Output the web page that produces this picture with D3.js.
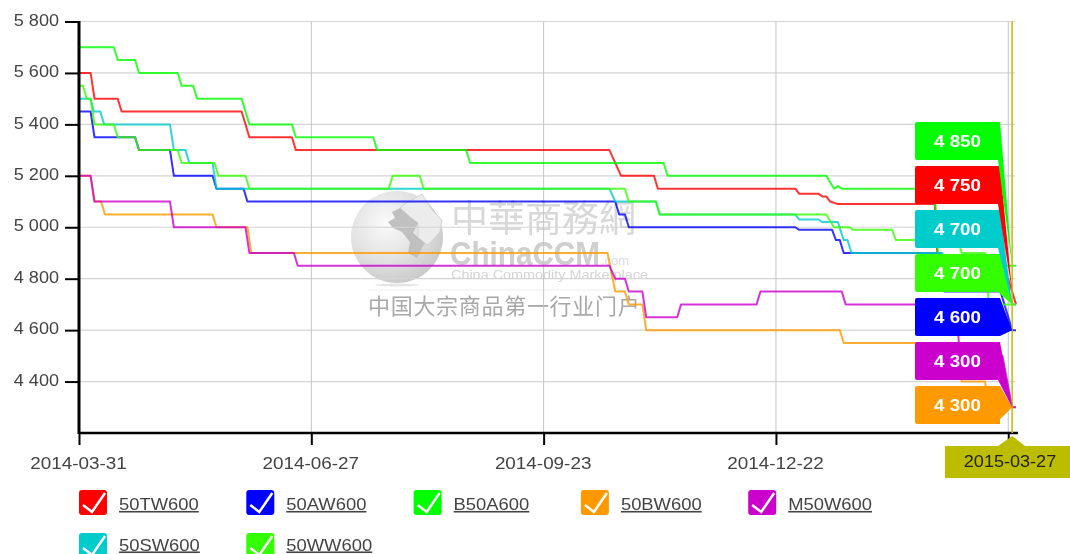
<!DOCTYPE html>
<html>
<head>
<meta charset="utf-8">
<script src="https://cdn.jsdelivr.net/npm/d3@7/dist/d3.min.js"></script>
<style>
body { margin: 0; background: #fff; }
svg { display: block; filter: blur(0.5px); font-family: "Liberation Sans", Arial, sans-serif; }
</style>
</head>
<body>
<svg width="1070" height="554"></svg>
<script>
// x values are positions on the trading day axis (0 = 2014-03-31)
var seriesNames = ["50TW600", "50AW600", "B50A600", "50BW600", "M50W600", "50SW600", "50WW600"];
var seriesColors = ["#ff0000", "#0000ff", "#00ff00", "#ff9900", "#cc00cc", "#00cccc", "#33ff00"];

var tw50 = [[0,5600],[3,5600],[4,5500],[10,5500],[11,5450],[42,5450],[44,5350],[55,5350],[56,5300],[137,5300],[140,5200],[148.5,5200],[149.5,5150],[185,5150],[186,5130],[191,5130],[192,5120],[193,5120],[194,5100],[196,5090],[221,5090],[222,4800],[240,4800],[241,4750],[242,4700]];
var aw50 = [[0,5450],[3,5450],[4,5350],[14.5,5350],[15.5,5300],[23.5,5300],[24.5,5200],[34.5,5200],[35.5,5150],[42.5,5150],[43.5,5100],[138.5,5100],[139.5,5050],[141,5050],[142,5000],[185,5000],[186,4990],[194.5,4990],[195.5,4950],[196.5,4950],[197.5,4900],[222.5,4900],[223.5,4750],[238,4750],[241,4600],[242,4600]];
var b50a = [[0,5700],[9,5700],[10,5650],[14.5,5650],[15.5,5600],[25.5,5600],[26.5,5550],[29.5,5550],[30.5,5500],[42,5500],[44,5400],[55,5400],[56,5350],[76,5350],[77,5300],[100,5300],[101,5250],[151,5250],[152,5200],[193,5200],[195,5150],[196,5160],[197,5150],[221,5150],[222,4850],[242,4850]];
var bw50 = [[0,5200],[3,5200],[4,5100],[5.7,5100],[6.7,5050],[34.5,5050],[35.5,5000],[43.5,5000],[44.5,4900],[136.5,4900],[138.5,4750],[141,4750],[142,4700],[145.5,4700],[146.5,4600],[196.5,4600],[197.5,4550],[221,4550],[222,4450],[227.5,4450],[228,4400],[234,4400],[235,4300],[242,4300]];
var m50w = [[0,5200],[3,5200],[4,5100],[23.5,5100],[24.5,5000],[43,5000],[44,4900],[55.5,4900],[56.5,4850],[137,4850],[138.5,4800],[141,4800],[142,4750],[145.5,4750],[146.5,4650],[154.5,4650],[155.5,4700],[175,4700],[176,4750],[197,4750],[198,4700],[226.5,4700],[227.5,4500],[238.5,4500],[241,4300],[242,4300]];
var sw50 = [[0,5500],[3,5500],[3.8,5450],[5.5,5450],[6.5,5400],[23.5,5400],[24.5,5300],[27.5,5300],[28.5,5250],[34.5,5250],[35.5,5150],[137,5150],[138.5,5100],[149,5100],[150,5050],[185,5050],[186,5030],[191,5030],[192,5020],[196,5020],[197.5,4950],[198.5,4950],[199.5,4900],[223,4900],[224,4850],[238,4850],[241,4700],[242,4700]];
var ww50 = [[0,5550],[1,5550],[2,5500],[3,5500],[4,5400],[9,5400],[10,5350],[14.5,5350],[15.5,5300],[25.5,5300],[26.5,5250],[35,5250],[36,5200],[43,5200],[44,5150],[80,5150],[81,5200],[88,5200],[89,5150],[141,5150],[142,5100],[149,5100],[150,5050],[193,5050],[195,5000],[199,5000],[200,4990],[210,4990],[211,4950],[227,4950],[228,4900],[234,4900],[235,4700],[242,4700]];
var seriesData = [tw50, aw50, b50a, bw50, m50w, sw50, ww50];

var tagValues = [4750, 4600, 4850, 4300, 4300, 4700, 4700];   // tooltip values at the crosshair
var flagOrder = [2, 0, 5, 6, 1, 4, 3];                        // top to bottom
var crosshairDay = 241;
var crosshairLabel = "2015-03-27";

var xTicks = [0, 60, 120, 180, 240];
var xTickLabels = ["2014-03-31", "2014-06-27", "2014-09-23", "2014-12-22", ""];
var yTicks = [4400, 4600, 4800, 5000, 5200, 5400, 5600, 5800];

var svg = d3.select("svg");

var xScale = d3.scaleLinear().domain([0, 242]).range([79, 1016]);
var yScale = d3.scaleLinear().domain([4200, 5800]).range([433, 21.5]);

function spaced(v) {
    return String(v).charAt(0) + " " + String(v).slice(1);
}

// background watermark
var defs = svg.append("defs");
var globeGrad = defs.append("radialGradient").attr("id", "globeGrad")
    .attr("cx", "38%").attr("cy", "35%").attr("r", "70%");
globeGrad.append("stop").attr("offset", "0%").attr("stop-color", "#fbfbfb");
globeGrad.append("stop").attr("offset", "60%").attr("stop-color", "#e0e0e0");
globeGrad.append("stop").attr("offset", "100%").attr("stop-color", "#c8c8c8");

var mark = svg.append("g");
mark.append("circle").attr("cx", 397).attr("cy", 237).attr("r", 46).attr("fill", "url(#globeGrad)");
mark.append("path")
    .attr("d", "M403,205 L422,194 L432,210 L442,220 L440,232 L428,245 L418,240 L418,223 L410,217 L400,208 Z")
    .attr("fill", "#ececec").attr("stroke", "#d2d2d2");
mark.append("path")
    .attr("d", "M388,222 L395,218 L392,212 L400,208 L410,217 L418,223 L413,233 L425,243 L422,248 L417,258 L408,253 L410,242 L402,232 L393,228 Z")
    .attr("fill", "#c0c0c0");
mark.append("ellipse").attr("cx", 397).attr("cy", 285).attr("rx", 22).attr("ry", 1.5).attr("fill", "#e4e4e4");
mark.append("text").attr("x", 451).attr("y", 232)
    .attr("font-family", "'Noto Sans CJK TC'").attr("font-size", 37)
    .attr("fill", "#d8d8d8").text("中華商務網");
mark.append("text").attr("x", 450).attr("y", 265)
    .attr("font-weight", "bold").attr("font-size", 33).attr("fill", "#cfcfcf")
    .attr("textLength", 150).attr("lengthAdjust", "spacingAndGlyphs").text("ChinaCCM");
mark.append("text").attr("x", 601).attr("y", 265)
    .attr("font-size", 13).attr("fill", "#dcdcdc").text(".com");
mark.append("text").attr("x", 451).attr("y", 279)
    .attr("font-size", 12).attr("fill", "#d4d4d4")
    .attr("textLength", 197).attr("lengthAdjust", "spacingAndGlyphs").text("China Commodity Marketplace");
mark.append("line").attr("x1", 368).attr("x2", 640).attr("y1", 290).attr("y2", 290).attr("stroke", "#eeeeee");
mark.append("text").attr("x", 368).attr("y", 314)
    .attr("font-family", "'Noto Sans CJK SC'").attr("font-size", 22).attr("letter-spacing", 0.7)
    .attr("fill", "#a8a8a8").text("中国大宗商品第一行业门户");

// grid
svg.append("g").selectAll("line").data(yTicks).join("line")
    .attr("x1", 79).attr("x2", 1015)
    .attr("y1", function(d) { return yScale(d); })
    .attr("y2", function(d) { return yScale(d); })
    .attr("stroke", "#d4d4d4").attr("stroke-width", 1.2);
svg.append("g").selectAll("line").data(xTicks.slice(1)).join("line")
    .attr("x1", function(d) { return xScale(d); })
    .attr("x2", function(d) { return xScale(d); })
    .attr("y1", 21.5).attr("y2", 433)
    .attr("stroke", "#c4c4c4").attr("stroke-width", 1);

// lines
var line = d3.line()
    .x(function(d) { return xScale(d[0]); })
    .y(function(d) { return yScale(d[1]); });

svg.append("g").selectAll("path").data(seriesData).join("path")
    .attr("fill", "none")
    .attr("stroke", function(d, i) { return seriesColors[i]; })
    .attr("stroke-width", 2)
    .attr("stroke-opacity", 0.8)
    .attr("stroke-linejoin", "round")
    .attr("d", line);

// axes
var xAxis = d3.axisBottom(xScale)
    .tickValues(xTicks)
    .tickSize(12)
    .tickSizeOuter(0)
    .tickFormat(function(d, i) { return xTickLabels[i]; });
var gx = svg.append("g").attr("transform", "translate(0,433)").call(xAxis);
gx.select(".domain").attr("stroke", "#000").attr("stroke-width", 2.5).attr("d", "M79,0H1018");
gx.selectAll(".tick line").attr("stroke", "#000").attr("stroke-width", 2);
gx.selectAll(".tick text")
    .attr("font-size", 16).attr("fill", "#444").attr("font-family", "'Liberation Sans'")
    .attr("y", 0).attr("dy", 0)
    .attr("transform", "translate(-1,35.5) scale(1.18,1)");

var yAxis = d3.axisLeft(yScale)
    .tickValues(yTicks)
    .tickSize(14)
    .tickSizeOuter(0)
    .tickFormat(spaced);
var gy = svg.append("g").attr("transform", "translate(79,0)").call(yAxis);
gy.select(".domain").attr("stroke", "#000").attr("stroke-width", 3).attr("d", "M0,21V434");
gy.selectAll(".tick line").attr("stroke", "#000").attr("stroke-width", 2);
gy.selectAll(".tick text")
    .attr("font-size", 16).attr("fill", "#444").attr("font-family", "'Liberation Sans'")
    .attr("x", 0).attr("dy", "0.32em")
    .attr("transform", "translate(-20,-1.5) scale(1.13,1)");

// crosshair
var crossX = xScale(crosshairDay);
svg.append("line")
    .attr("x1", crossX).attr("x2", crossX).attr("y1", 21.5).attr("y2", 433)
    .attr("stroke", "#bdbd00").attr("stroke-width", 1.5);
svg.append("path")
    .attr("d", "M945,446 H998 L" + crossX + ",436 L1025,446 H1070 V478 H945 Z")
    .attr("fill", "#bdbd00");
svg.append("text")
    .attr("transform", "translate(1010,467) scale(1.13,1)")
    .attr("text-anchor", "middle").attr("font-size", 16).attr("fill", "#222")
    .text(crosshairLabel);

// value flags at the crosshair, the top one drawn last
var flags = svg.append("g").selectAll("g")
    .data(flagOrder.map(function(d, i) { return {s: d, row: i}; }).reverse())
    .join("g");
flags.append("path")
    .attr("fill", function(d) { return seriesColors[d.s]; })
    .attr("d", function(d) {
        var top = 122 + d.row * 44;
        var bottom = top + 38;
        var tipY = yScale(tagValues[d.s]);
        var edge = tipY < bottom ? 1000 : 998;   // tip level with the box keeps the full width
        return "M917," + top + " H1000 L" + crossX + "," + tipY +
            " L" + edge + "," + Math.min(bottom, tipY + 12) + " L" + edge + "," + bottom + " H917 Q915," + bottom + " 915," + (bottom - 2) +
            " V" + (top + 2) + " Q915," + top + " 917," + top + " Z";
    });
flags.append("text")
    .attr("transform", function(d) { return "translate(957.5," + (122 + d.row * 44 + 25) + ") scale(1.17,1)"; })
    .attr("text-anchor", "middle").attr("font-size", 16).attr("font-weight", "bold").attr("fill", "#fff")
    .text(function(d) { return spaced(tagValues[d.s]); });

// legend
var legend = svg.append("g").selectAll("g").data(seriesNames).join("g")
    .attr("transform", function(d, i) {
        return "translate(" + (79 + (i % 5) * 167.3) + "," + (490 + Math.floor(i / 5) * 43) + ")";
    });
legend.append("rect")
    .attr("width", 28).attr("height", 25).attr("rx", 3)
    .attr("fill", function(d, i) { return seriesColors[i]; });
legend.append("path")
    .attr("d", "M4,15 L13,22 L26,3")
    .attr("fill", "none").attr("stroke", "#fff").attr("stroke-width", 2.5);
legend.append("text")
    .attr("transform", function(d, i) { return "translate(40," + (i < 5 ? 20 : 17.5) + ") scale(1.15,1)"; })
    .attr("font-size", 16).attr("fill", "#444").attr("text-decoration", "underline")
    .text(function(d) { return d; });
</script>
</body>
</html>
